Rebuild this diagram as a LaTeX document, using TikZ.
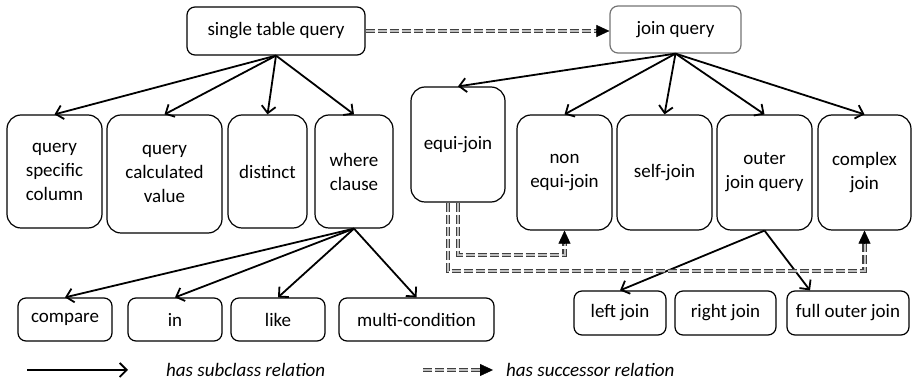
\documentclass[tikz,border=0pt]{standalone}
\usepackage{fontspec}
\setmainfont{Carlito}
\usetikzlibrary{arrows.meta,calc}
\begin{document}
\begin{tikzpicture}[x=1pt,y=-1pt,
  txt/.style={font=\fontsize{19}{24}\selectfont},
  box/.style={txt, draw, line width=1.2pt, rounded corners=8pt, align=center, inner sep=0pt},
  bigbox/.style={box, rounded corners=14pt},
  sub/.style={draw, line width=1.8pt, -{Straight Barb[length=7pt,width=14pt]}},
  succline/.style={draw=black!75, line width=1.2pt, double=black!25, double distance=2pt,
    dash pattern=on 9pt off 3pt, shorten >=11pt},
  succtip/.style={draw, line width=0.4pt, -{Triangle[length=13pt,width=12pt]}},
  legend/.style={txt, font=\fontsize{19}{24}\selectfont\itshape, anchor=west, inner sep=0pt}]
\useasboundingbox (0,0) rectangle (914,387);

% top level
\node[box, minimum width=178, minimum height=48] (stq) at (276,31) {single table query};
\node[box, draw=black!55, minimum width=131, minimum height=47] (jq) at (675.5,29.5) {join query};

% single table query children
\node[bigbox, minimum width=95, minimum height=113] (qsc) at (54.5,171.5) {query\\specific\\column};
\node[bigbox, minimum width=115, minimum height=118] (qcv) at (164.5,174) {query\\calculated\\value};
\node[bigbox, minimum width=79, minimum height=113] (dist) at (267.5,171.5) {distinct};
\node[bigbox, minimum width=78, minimum height=113] (wc) at (354,171.5) {where\\clause};

% join query children
\node[bigbox, minimum width=94, minimum height=115] (equi) at (458,144.5) {equi-join};
\node[bigbox, minimum width=95, minimum height=115] (nonequi) at (564.5,172.5) {non\\equi-join};
\node[bigbox, minimum width=95, minimum height=115] (self) at (664.5,172.5) {self-join};
\node[bigbox, minimum width=95, minimum height=115] (outer) at (764.5,172.5) {outer\\join query};
\node[bigbox, minimum width=93, minimum height=115] (complex) at (864.5,172.5) {complex\\join};

% where clause children
\node[box, minimum width=94, minimum height=43] (cmp) at (65,319.5) {compare};
\node[box, minimum width=94, minimum height=43] (in) at (175,319.5) {in};
\node[box, minimum width=94, minimum height=43] (like) at (278,319.5) {like};
\node[box, minimum width=155, minimum height=43] (multi) at (416.5,319.5) {multi-condition};

% outer join children
\node[box, minimum width=92, minimum height=44] (left) at (620,313) {left join};
\node[box, minimum width=101, minimum height=44] (right) at (725.5,313) {right join};
\node[box, minimum width=122, minimum height=44] (full) at (848,313) {full outer join};

% subclass relations
\foreach \t in {qsc,qcv,dist,wc} \draw[sub] (stq.south) -- (\t.north);
\foreach \t in {equi,nonequi,self,outer,complex} \draw[sub] (jq.south) -- (\t.north);
\foreach \t in {cmp,in,like,multi} \draw[sub] (wc.south) -- (\t.north);
\draw[sub] (outer.south) -- (left.north);
\draw[sub] (outer.south) -- ($(full.north)+(-38,0)$);

% successor relations: double dashed line, then the filled head
\coordinate (jqin) at (stq.east -| jq.west);
\draw[succline] (stq.east) -- (jqin);
\draw[succtip] ($(jqin)+(-13,0)$) -- (jqin);

\draw[succline] (equi.south) |- (458,255) -| (nonequi.south);
\draw[succtip] ($(nonequi.south)+(0,13)$) -- (nonequi.south);

\draw[succline] ($(equi.south)+(-10,0)$) |- (864.5,271) -| (complex.south);
\draw[succtip] ($(complex.south)+(0,13)$) -- (complex.south);

% legend
\coordinate (ls1) at (27,370);
\coordinate (ls2) at (128,370);
\draw[sub] (ls1) -- (ls2);
\node[legend] (lt1) at (166,370) {has subclass relation};
\coordinate (ld1) at (423,370);
\coordinate (ld2) at (493,370);
\draw[succline] (ld1) -- (ld2);
\draw[succtip] ($(ld2)+(-13,0)$) -- (ld2);
\node[legend] (lt2) at (506,370) {has successor relation};
\end{tikzpicture}
\end{document}
